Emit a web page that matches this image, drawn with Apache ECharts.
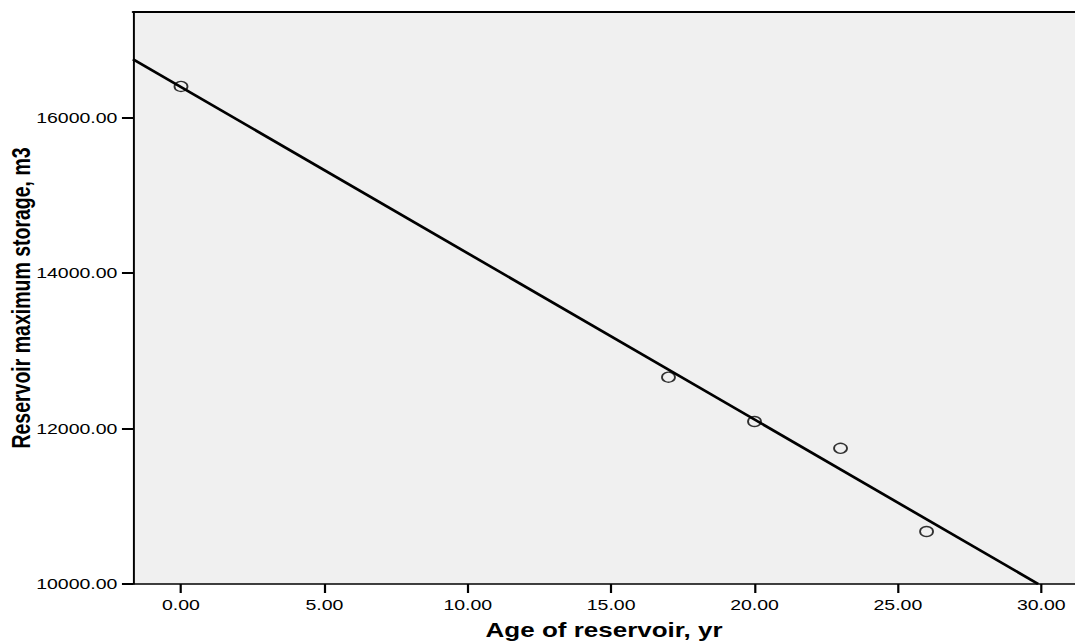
<!DOCTYPE html>
<html>
<head>
<meta charset="utf-8">
<script src="https://cdn.jsdelivr.net/npm/echarts@6/dist/echarts.min.js"></script>
<style>
html,body{margin:0;padding:0;background:#fff;overflow:hidden}
#c{width:827px;height:642px;transform:scaleX(1.3);transform-origin:0 0}
</style>
</head>
<body>
<div id="c"></div>
<script>
const ages = [0, 17, 20, 23, 26];
const storage = [16400, 12660, 12090, 11745, 10675];
const xTicks = [0, 5, 10, 15, 20, 25, 30];
const yTicks = [10000, 12000, 14000, 16000];
const xRange = [-1.674, 31.18];
const yRange = [10000, 17357];

// least-squares fit line computed from the data
const n = ages.length;
const mx = ages.reduce((a,b)=>a+b,0)/n;
const my = storage.reduce((a,b)=>a+b,0)/n;
let sxy=0, sxx=0;
for (let i=0;i<n;i++){ sxy+=(ages[i]-mx)*(storage[i]-my); sxx+=(ages[i]-mx)**2; }
const slope = sxy/sxx, icpt = my - slope*mx;
const xEnd = (yRange[0]-icpt)/slope;
const fitLine = [[xRange[0], icpt+slope*xRange[0]], [xEnd, yRange[0]]];

const font = 'Liberation Sans, Arial, sans-serif';
const chart = echarts.init(document.getElementById('c'), null, {renderer:'svg'});
chart.setOption({
  animation:false,
  backgroundColor:'#fff',
  grid:{left:102.3,right:0,top:12,bottom:58,show:true,backgroundColor:'#f0f0f0',borderWidth:0,
        outerBoundsMode:'none',containLabel:false},
  xAxis:[{
    type:'value',min:xRange[0],max:xRange[1],
    name:'Age of reservoir, yr',nameLocation:'middle',nameGap:36,nameMoveOverlap:false,
    nameTextStyle:{fontFamily:font,fontWeight:'bold',fontSize:20,color:'#000'},
    axisLine:{show:true,onZero:false,lineStyle:{color:'#000',width:1.5}},
    axisTick:{show:true,length:9,lineStyle:{color:'#000',width:1.7},customValues:xTicks},
    axisLabel:{show:true,margin:13,fontFamily:font,fontSize:15,color:'#000',
      customValues:xTicks,formatter:v=>v.toFixed(2)},
    splitLine:{show:false}
  },{
    type:'value',position:'top',min:xRange[0],max:xRange[1],
    axisLine:{show:true,onZero:false,lineStyle:{color:'#000',width:2}},
    axisTick:{show:false},axisLabel:{show:false},splitLine:{show:false}
  }],
  yAxis:{
    type:'value',min:yRange[0],max:yRange[1],
    name:'Reservoir maximum storage, m3',nameLocation:'middle',nameGap:76,nameMoveOverlap:false,
    nameTextStyle:{fontFamily:font,fontWeight:'bold',fontSize:19.5,color:'#000'},
    axisLine:{show:true,onZero:false,lineStyle:{color:'#000',width:1.5}},
    axisTick:{show:true,length:8.5,lineStyle:{color:'#000',width:2},customValues:yTicks},
    axisLabel:{show:true,margin:12,fontFamily:font,fontSize:15,color:'#000',
      customValues:yTicks,formatter:v=>v.toFixed(2)},
    splitLine:{show:false}
  },
  series:[{
    type:'line',data:fitLine,showSymbol:false,symbol:'none',
    lineStyle:{color:'#000',width:2.5},z:2
  },{
    type:'scatter',data:ages.map((a,i)=>[a,storage[i]]),
    symbol:'circle',symbolSize:10,
    itemStyle:{color:'rgba(0,0,0,0)',borderColor:'#000',borderWidth:1.4},z:3
  }]
});
</script>
</body>
</html>
